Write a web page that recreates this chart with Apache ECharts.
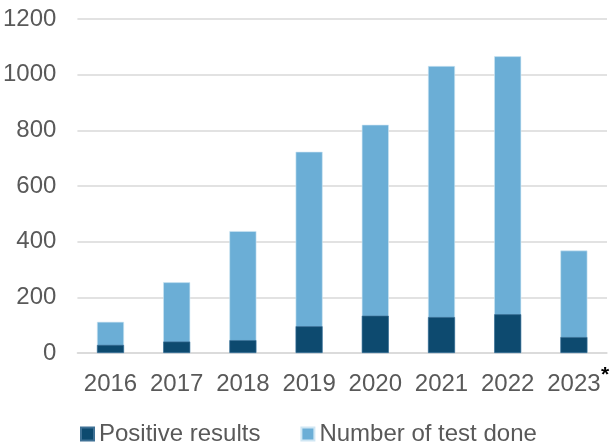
<!DOCTYPE html>
<html>
<head>
<meta charset="utf-8">
<script src="https://cdn.jsdelivr.net/npm/echarts@6/dist/echarts.min.js"></script>
<style>
  html, body { margin: 0; padding: 0; background: #fff; }
  #chart { width: 614px; height: 444px; }
</style>
</head>
<body>
<div id="chart"></div>
<script>
// data
const years = ['2016', '2017', '2018', '2019', '2020', '2021', '2022', '2023'];
const positiveResults = [29, 41, 46, 96, 134, 129, 139, 57];
const testsDone = [112, 254, 438, 723, 820, 1031, 1066, 368];
const yTicks = [0, 200, 400, 600, 800, 1000, 1200];

const chart = echarts.init(document.getElementById('chart'));
const font = "'Liberation Sans', Arial, sans-serif";
const textGrey = '#595959';

const option = {
    animation: false,
    grid: { left: 73, right: 7, top: 19, bottom: 91 },
    legend: {
        top: 422,
        left: 80,
        padding: 0,
        itemWidth: 13,
        itemHeight: 13,
        itemGap: 40,
        icon: 'rect',
        textStyle: { fontFamily: font, fontSize: 24, color: textGrey },
        data: ['Positive results', 'Number of test done']
    },
    xAxis: {
        type: 'category',
        data: years,
        axisLine: { lineStyle: { color: '#d9d9d9', width: 1.5 } },
        axisTick: { show: false },
        axisLabel: {
            interval: 0,
            margin: 3,
            formatter: function (v, i) {
                // last year is marked with an asterisk
                if (i === years.length - 1) {
                    return '{p| }{a|' + v + '}{s|*}';
                }
                return '{a|' + v + '}';
            },
            rich: {
                a: { fontFamily: font, fontSize: 24, lineHeight: 40, color: textGrey, verticalAlign: 'bottom' },
                p: { fontFamily: font, fontSize: 21, width: 9, verticalAlign: 'top' },
                s: { fontFamily: font, fontSize: 21, width: 9, color: '#000', fontWeight: 'bold', verticalAlign: 'top', padding: [9, 0, 0, 0] }
            }
        }
    },
    yAxis: {
        type: 'value',
        min: yTicks[0],
        max: yTicks[yTicks.length - 1],
        interval: 200,
        axisLine: { show: false },
        axisTick: { show: false },
        splitLine: { lineStyle: { color: '#d9d9d9', width: 1.5 } },
        axisLabel: {
            margin: 21,
            fontFamily: font,
            fontSize: 24,
            color: textGrey,
            formatter: function (v) { return String(v); }
        }
    },
    series: [
        {
            name: 'Number of test done',
            type: 'bar',
            data: testsDone,
            barWidth: 27,
            barGap: '-100%',
            itemStyle: { color: '#6baed6', borderColor: '#cfe6f3', borderWidth: 0.6 }
        },
        {
            name: 'Positive results',
            type: 'bar',
            data: positiveResults,
            barWidth: 27,
            itemStyle: { color: '#0d4a6f', borderColor: '#3f7195', borderWidth: 0.6 }
        }
    ],
    color: ['#6baed6', '#0d4a6f']
};
chart.setOption(option);
</script>
</body>
</html>
